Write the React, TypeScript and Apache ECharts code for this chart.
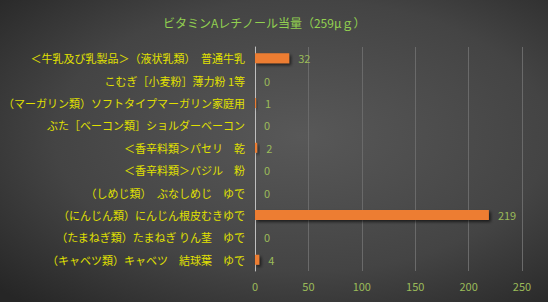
import React, { useEffect, useRef } from "react";
import * as echarts from "echarts";

const title = "ビタミンAレチノール当量（259μｇ）";
const categories = [
  "＜牛乳及び乳製品＞（液状乳類）　普通牛乳",
  "こむぎ［小麦粉］薄力粉 1等",
  "（マーガリン類）ソフトタイプマーガリン家庭用",
  "ぶた［ベーコン類］ショルダーベーコン",
  "＜香辛料類＞パセリ　乾",
  "＜香辛料類＞バジル　粉",
  "（しめじ類）　ぶなしめじ　ゆで",
  "（にんじん類）にんじん根皮むきゆで",
  "（たまねぎ類）たまねぎ りん茎　ゆで",
  "（キャベツ類）キャベツ　結球葉　ゆで",
];
const values = [32, 0, 1, 0, 2, 0, 0, 219, 0, 4];
const xTicks = { min: 0, max: 250, interval: 50 };

export default function App() {
  const ref = useRef<HTMLDivElement>(null);
  useEffect(() => {
    if (!ref.current) return;
    const chart = echarts.init(ref.current, null, { renderer: "svg" });
    const font = "'Noto Sans CJK JP', sans-serif";
    chart.setOption({
      animation: false,
      backgroundColor: {
        type: "radial",
        x: 0.55,
        y: 0.45,
        r: 0.75,
        colorStops: [
          { offset: 0, color: "#585858" },
          { offset: 0.6, color: "#444444" },
          { offset: 1, color: "#262626" },
        ],
      },
      title: {
        text: title,
        left: 158,
        top: 11,
        textStyle: { color: "#92d050", fontSize: 12, fontWeight: "normal", fontFamily: font },
      },
      grid: { left: 253, right: 26, top: 47, bottom: 31, containLabel: false },
      xAxis: {
        type: "value",
        min: xTicks.min,
        max: xTicks.max,
        interval: xTicks.interval,
        axisLine: { show: false },
        axisTick: { show: false },
        splitLine: { show: true, lineStyle: { color: "#6a6a6a", width: 1 } },
        axisLabel: { color: "#9bbb59", fontSize: 11, fontFamily: font, margin: 9 },
      },
      yAxis: {
        type: "category",
        data: categories.slice().reverse(),
        axisLine: { show: true, lineStyle: { color: "#bfbfbf", width: 1 } },
        axisTick: { show: false },
        axisLabel: { color: "#e0e000", fontSize: 11, fontFamily: font, margin: 10 },
      },
      series: [
        {
          type: "bar",
          data: values.slice().reverse(),
          barWidth: 10,
          itemStyle: {
            color: "#ed7d31",
            shadowColor: "rgba(0,0,0,0.6)",
            shadowBlur: 3,
            shadowOffsetX: 2,
            shadowOffsetY: 2,
          },
          label: {
            show: true,
            position: "right",
            distance: 9,
            color: "#9bbb59",
            fontSize: 11,
            fontFamily: font,
          },
        },
      ],
    });
    return () => chart.dispose();
  }, []);
  return <div ref={ref} style={{ width: 548, height: 302, position: "absolute", left: 0, top: 0 }} />;
}
